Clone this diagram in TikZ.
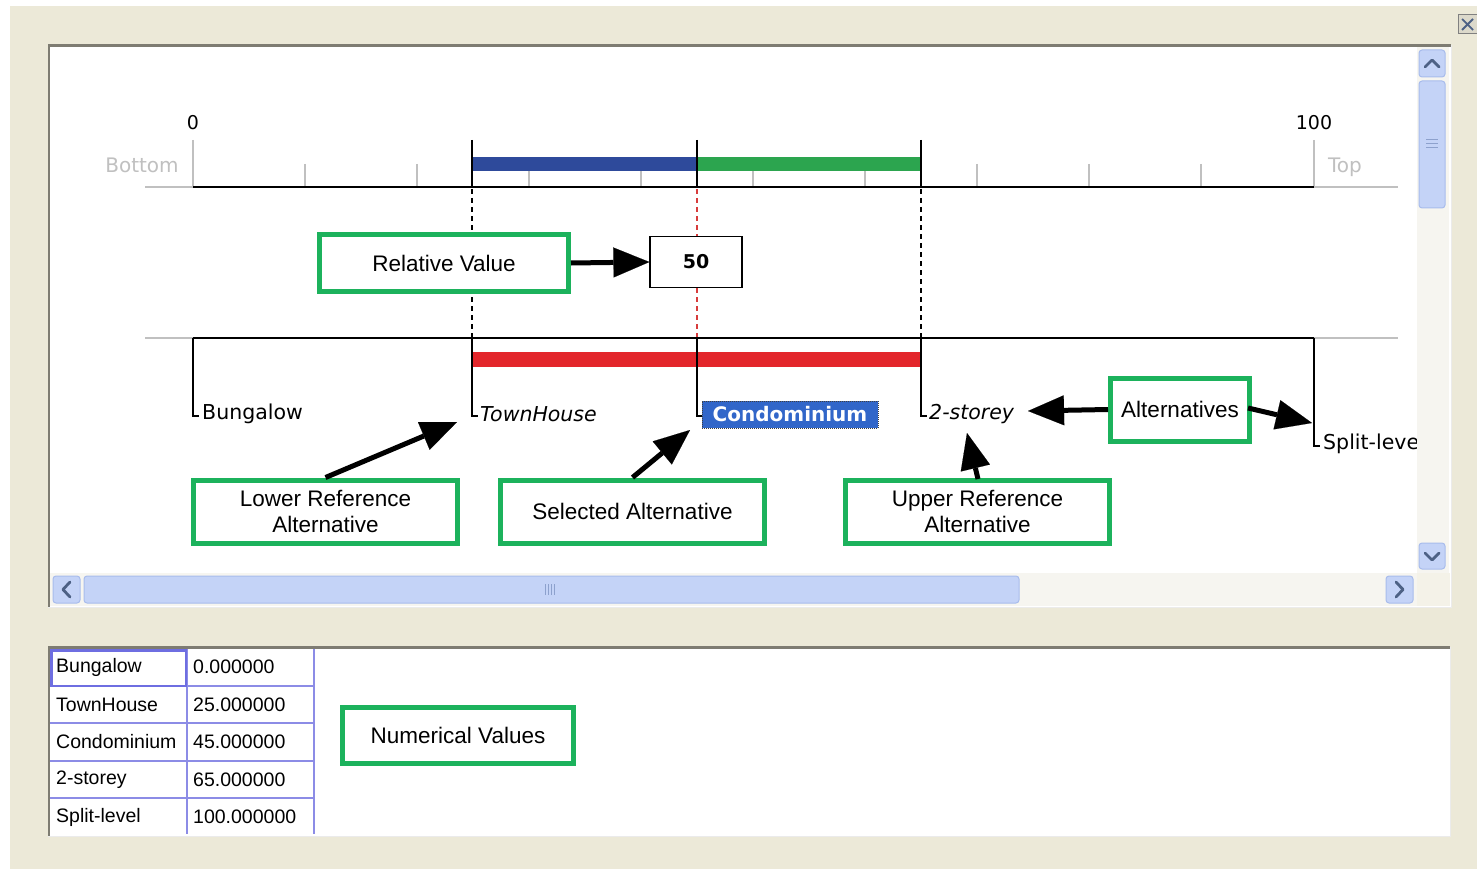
\documentclass[tikz,border=0pt]{standalone}
\usepackage{fontspec}
\setmainfont{Liberation Sans}
\newfontfamily\vfont{DejaVu Sans}
\usetikzlibrary{arrows.meta}
\definecolor{beige}{RGB}{236,233,216}
\definecolor{annGreen}{RGB}{28,178,92}
\definecolor{barBlue}{RGB}{46,74,155}
\definecolor{barGreen}{RGB}{44,165,79}
\definecolor{barRed}{RGB}{227,38,43}
\definecolor{dashRed}{RGB}{215,60,60}
\definecolor{condoBlue}{RGB}{49,102,201}
\definecolor{tabLine}{RGB}{140,140,230}
\definecolor{tabSel}{RGB}{110,110,225}
\definecolor{frameDark}{RGB}{126,124,114}
\definecolor{tickGray}{RGB}{192,192,192}
\definecolor{btnFill}{RGB}{196,211,247}
\definecolor{btnDraw}{RGB}{168,188,236}
\definecolor{chev}{RGB}{77,97,133}
\definecolor{trackFill}{RGB}{246,245,240}
\newcommand\myAnnFont{\fontsize{22.5}{26}\selectfont}
\newcommand\myLabFont{\vfont\fontsize{20.5}{24}\selectfont}
\newcommand\myTabFont{\fontsize{19.5}{22}\selectfont}
\begin{document}
\begin{tikzpicture}[x=1pt,y=-1pt,
  ann/.style={draw=annGreen, line width=5pt, fill=white, font=\myAnnFont, align=center, inner sep=0pt},
  arr/.style={line width=5pt, -{Triangle[length=36pt,width=30pt,line width=0.1pt]}},
  glab/.style={font=\myLabFont, anchor=west, inner sep=0pt},
  tick/.style={draw=tickGray, line width=1.5pt},
  hook/.style={draw=black, line width=1.5pt},
  btn/.style={fill=btnFill, draw=btnDraw, line width=1pt, rounded corners=3pt},
  chevron/.style={draw=chev, line width=2.8pt, line cap=round, line join=round},
  tabtext/.style={font=\myTabFont, anchor=west, inner sep=0pt},
  tabrule/.style={draw=tabLine, line width=1.5pt}
]
\useasboundingbox (0,0) rectangle (1477,869);
\fill[white] (0,0) rectangle (1477,869);
\fill[beige] (10,6) rectangle (1477,869);

% close button
\draw[fill=beige!85!gray, draw=gray, line width=1pt] (1458,15) rectangle (1477,34);
\draw[chev, line width=1.8pt] (1462,19) -- (1473,30) (1462,30) -- (1473,19);

% ===== top panel =====
\fill[white] (48,45) rectangle (1451,607);
\draw[frameDark, line width=2.5pt] (48,45.5) -- (1451,45.5);
\draw[frameDark, line width=2.5pt] (49,45) -- (49,607);
\draw[white!92!black, line width=1pt] (1451,45) -- (1451,607) -- (48,607);

% vertical scrollbar
\fill[trackFill] (1417,47) rectangle (1449,573);
\draw[btn] (1419,50) rectangle (1445,77);
\draw[chevron] (1425,67) -- (1432,60) -- (1439,67);
\draw[btn] (1419,81) rectangle (1445,208);
\foreach \yy in {139,143,147} \draw[btnDraw!70!chev, line width=0.8pt] (1426,\yy) -- (1438,\yy);
\draw[btn] (1419,543) rectangle (1445,569);
\draw[chevron] (1425,553) -- (1432,560) -- (1439,553);

% horizontal scrollbar
\fill[trackFill] (50,573) rectangle (1417,606);
\fill[beige!60!white] (1417,573) rectangle (1450,606);
\draw[btn] (53,576) rectangle (80,603);
\draw[chevron] (70,582) -- (63,589.5) -- (70,597);
\draw[btn] (84,576) rectangle (1019,603);
\foreach \xx in {545,548,551,554} \draw[btnDraw!70!chev, line width=0.8pt] (\xx,584) -- (\xx,595);
\draw[btn] (1386,576) rectangle (1413,603);
\draw[chevron] (1396,582) -- (1403,589.5) -- (1396,597);

% ===== graph content =====
\begin{scope}
\clip (50,47) rectangle (1416,573);
% scale labels
\node[font=\vfont\fontsize{19}{22}\selectfont, inner sep=0pt, anchor=base] (lab0) at (193,130) {0};
\node[font=\vfont\fontsize{19}{22}\selectfont, inner sep=0pt, anchor=base] (lab100) at (1314,130) {100};
\node[font=\vfont\fontsize{20}{24}\selectfont, text=tickGray, inner sep=0pt, anchor=base] (labBottom) at (142,173) {Bottom};
\node[font=\vfont\fontsize{20}{24}\selectfont, text=tickGray, inner sep=0pt, anchor=base] (labTop) at (1345,173) {Top};

% top axis
\draw[tick] (145,187) -- (193,187);
\draw[tick] (1314,187) -- (1398,187);
\draw[tick] (193,140) -- (193,187);
\draw[tick] (1314,140) -- (1314,187);
\foreach \xx in {305,417,529,641,753,865,977,1089,1201} \draw[tick] (\xx,164) -- (\xx,187);
\fill[barBlue] (472,157) rectangle (697,171);
\fill[barGreen] (697,157) rectangle (921,171);
\draw[black, line width=1.5pt] (193,187) -- (1314,187);
\foreach \xx in {472,697,921} \draw[black, line width=1.5pt] (\xx,140) -- (\xx,187);

% dashed guides
\draw[black, line width=1.5pt, dash pattern=on 5pt off 4pt] (472,189) -- (472,338);
\draw[black, line width=1.5pt, dash pattern=on 5pt off 4pt] (921,189) -- (921,338);
\draw[dashRed, line width=1.2pt, dash pattern=on 5pt off 4pt] (697,189) -- (697,338);

% bottom axis
\draw[tick] (145,338) -- (193,338);
\draw[tick] (1314,338) -- (1398,338);
\draw[black, line width=1.5pt] (193,338) -- (1314,338);
\fill[barRed] (472,352) rectangle (921,367);
\draw[hook] (193,338) -- (193,416) -- (199,416);
\draw[hook] (472,338) -- (472,416) -- (478,416);
\draw[hook] (697,338) -- (697,416) -- (702,416);
\draw[hook] (921,338) -- (921,416) -- (927,416);
\draw[hook] (1314,338) -- (1314,446) -- (1320,446);

% alternative labels
\node[glab] (bung) at (202,414) {Bungalow};
\node[glab, font=\myLabFont\itshape] (town) at (480,414) {TownHouse};
\node[fill=condoBlue, draw=black!75, densely dotted, line width=1pt, minimum width=176pt, minimum height=27pt, inner sep=0pt, text=white, font=\vfont\bfseries\fontsize{20}{24}\selectfont] (condo) at (790,414.5) {Condominium};
\node[glab, font=\myLabFont\itshape] (storey) at (929,414) {2-storey};
\node[glab] (split) at (1323,444) {Split-level};

% annotation boxes
\node[ann, minimum width=249pt, minimum height=57pt] (relval) at (444,263) {Relative Value};
\node[draw=black, line width=1.2pt, fill=white, minimum width=92pt, minimum height=51pt, inner sep=0pt, font=\vfont\bfseries\fontsize{19}{22}\selectfont] (fifty) at (696,262) {50};
\node[ann, minimum width=264pt, minimum height=63pt] (lower) at (325.5,511.5) {Lower Reference\\Alternative};
\node[ann, minimum width=264pt, minimum height=63pt] (selected) at (632.5,511.5) {Selected Alternative};
\node[ann, minimum width=264pt, minimum height=63pt] (upper) at (977.5,511.5) {Upper Reference\\Alternative};
\node[ann, minimum width=139pt, minimum height=63pt] (alts) at (1180,409.5) {Alternatives};

% arrows
\coordinate (tLower) at (457,422);
\coordinate (tSel) at (690,430);
\coordinate (tUpper) at (967,433);
\coordinate (tAltL) at (1028,411);
\coordinate (tAltR) at (1312,423);
\coordinate (sUpper) at (978,479);
\coordinate (sAltR) at (1248,408);
\draw[arr] (relval.east) -- (fifty.west);
\draw[arr] (lower.north) -- (tLower);
\draw[arr] (selected.north) -- (tSel);
\draw[arr] (sUpper) -- (tUpper);
\draw[arr] (alts.west) -- (tAltL);
\draw[arr] (sAltR) -- (tAltR);
\end{scope}

% ===== bottom panel =====
\fill[white] (48,647) rectangle (1450,836);
\draw[frameDark, line width=2.5pt] (48,647.5) -- (1450,647.5);
\draw[frameDark, line width=2.5pt] (49,647) -- (49,836);
\draw[white!92!black, line width=1pt] (1450,647) -- (1450,836) -- (48,836);

% table
\foreach \yy in {686,723,761,798} \draw[tabrule] (50,\yy) -- (314,\yy);
\draw[tabrule] (187,649) -- (187,834);
\draw[tabrule] (314,649) -- (314,834);
\draw[tabSel, line width=2.5pt] (51.5,650.5) rectangle (186,686);
\node[tabtext] (r1a) at (56,667) {Bungalow};
\node[tabtext] (r1b) at (193,667) {0.000000};
\node[tabtext] (r2a) at (56,704.5) {TownHouse};
\node[tabtext] (r2b) at (193,704.5) {25.000000};
\node[tabtext] (r3a) at (56,742) {Condominium};
\node[tabtext] (r3b) at (193,742) {45.000000};
\node[tabtext] (r4a) at (56,779.5) {2-storey};
\node[tabtext] (r4b) at (193,779.5) {65.000000};
\node[tabtext] (r5a) at (56,817) {Split-level};
\node[tabtext] (r5b) at (193,817) {100.000000};

\node[ann, minimum width=231pt, minimum height=56pt] (numvals) at (458,735.5) {Numerical Values};
\end{tikzpicture}
\end{document}
